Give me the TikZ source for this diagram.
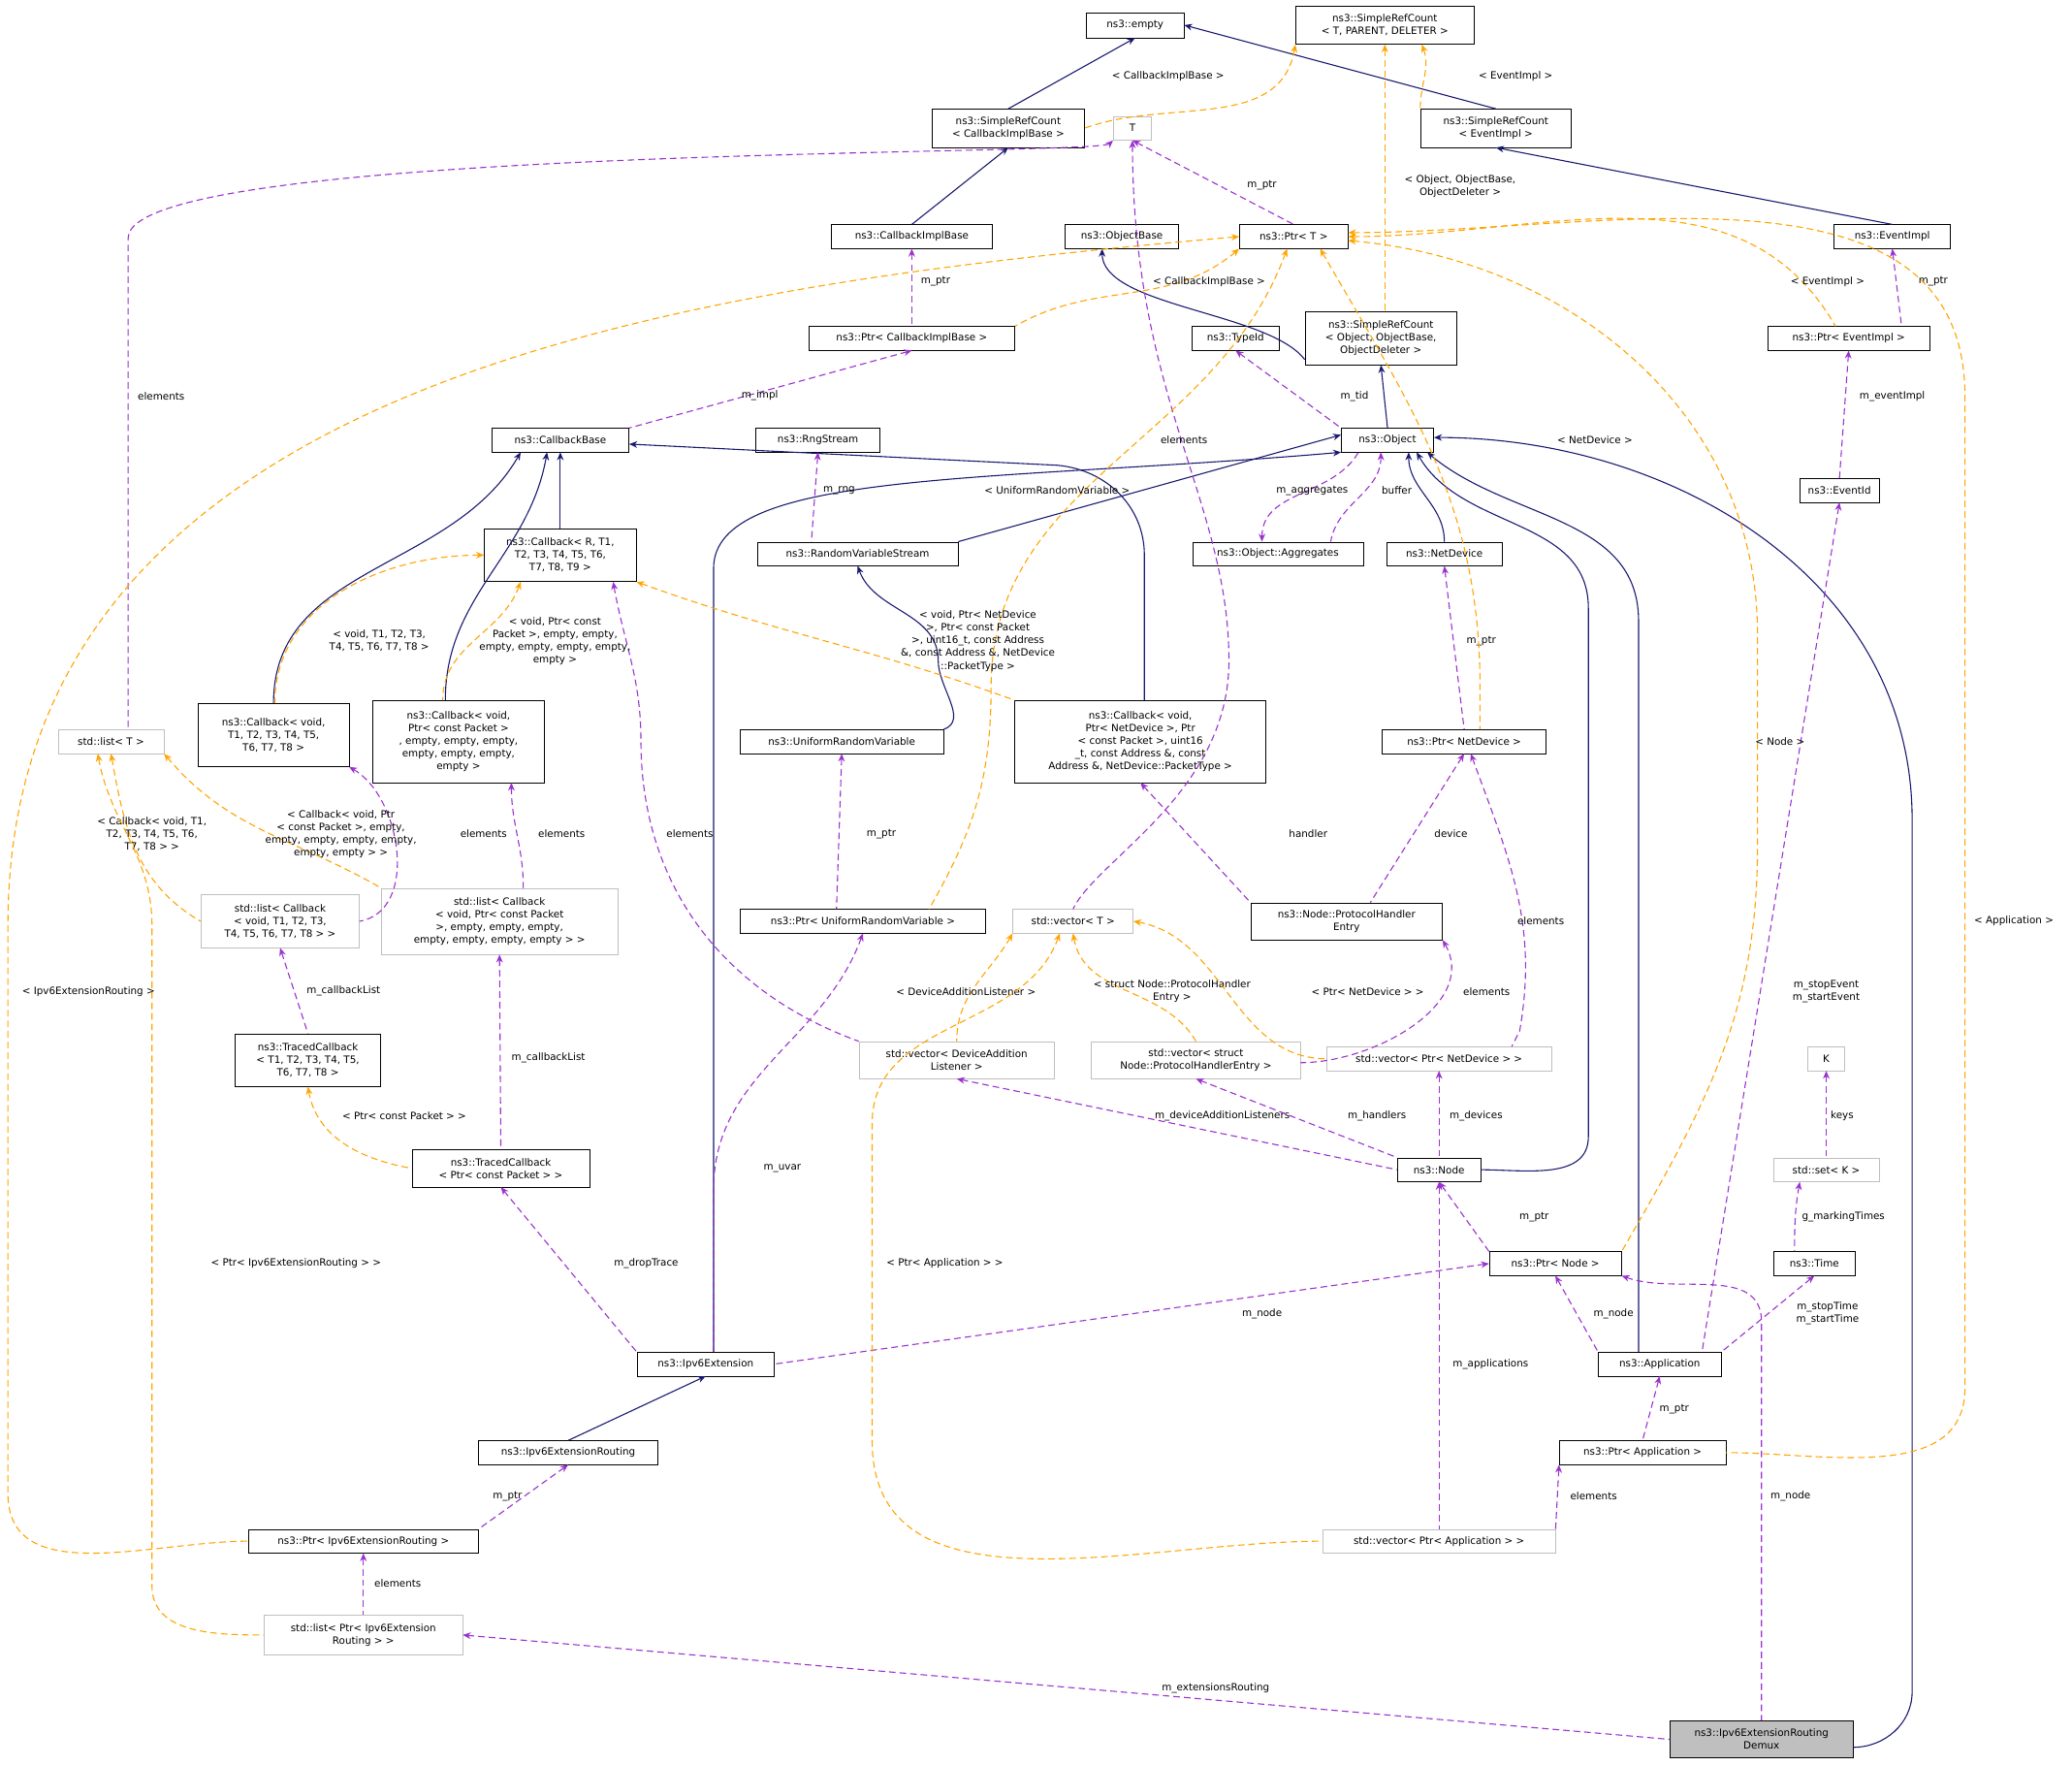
\documentclass[tikz,border=0pt]{standalone}
\usepackage{fontspec}
\setmainfont{DejaVu Sans}
\usetikzlibrary{arrows.meta}
\definecolor{navy}{HTML}{191970}
\definecolor{purp}{HTML}{9A32CD}
\definecolor{orng}{HTML}{FFA500}
\definecolor{gry}{HTML}{BFBFBF}
\tikzset{
 box/.style={draw=black, fill=white, inner sep=1pt, align=center, font=\fontsize{7.6}{9.6}\selectfont},
 gbox/.style={box, draw=gry},
 lbl/.style={inner sep=0pt, align=center, font=\fontsize{7.6}{9.6}\selectfont},
 inh/.style={draw=navy, thick, {Stealth[length=6pt,width=5pt]}-},
 use/.style={draw=purp, thick, dashed, dash pattern=on 5pt off 3pt, {Stealth[length=6pt,width=5pt]}-},
 tmpl/.style={draw=orng, thick, dashed, dash pattern=on 5pt off 3pt, {Stealth[length=6pt,width=5pt]}-},
}
\begin{document}
\begin{tikzpicture}[x=1pt,y=-1pt]
\useasboundingbox (0,0) rectangle (1568,1336);
\fill[white] (0,0) rectangle (1568,1336);
% nodes
\node[box,minimum width=74,minimum height=19] (empty) at (859,19) {ns3::empty};
\node[box,minimum width=135,minimum height=29] (srcT) at (1048,19) {ns3::SimpleRefCount\\< T, PARENT, DELETER >};
\node[box,minimum width=115,minimum height=29] (srcCIB) at (763,97) {ns3::SimpleRefCount\\< CallbackImplBase >};
\node[box,minimum width=114,minimum height=29] (srcEI) at (1132,97) {ns3::SimpleRefCount\\< EventImpl >};
\node[gbox,minimum width=29,minimum height=18] (T) at (857,97) {T};
\node[box,minimum width=122,minimum height=18] (CIB) at (690,179) {ns3::CallbackImplBase};
\node[box,minimum width=86,minimum height=18] (OB) at (849,179) {ns3::ObjectBase};
\node[box,minimum width=82,minimum height=18] (PtrT) at (979,179) {ns3::Ptr< T >};
\node[box,minimum width=88,minimum height=18] (EI) at (1432,179) {ns3::EventImpl};
\node[box,minimum width=156,minimum height=18] (PtrCIB) at (690,256) {ns3::Ptr< CallbackImplBase >};
\node[box,minimum width=66,minimum height=18] (TypeId) at (935,256) {ns3::TypeId};
\node[box,minimum width=115,minimum height=40] (srcObj) at (1045,256) {ns3::SimpleRefCount\\< Object, ObjectBase,\\ObjectDeleter >};
\node[box,minimum width=122,minimum height=18] (PtrEI) at (1399,256) {ns3::Ptr< EventImpl >};
\node[box,minimum width=104,minimum height=18] (CB) at (424,333) {ns3::CallbackBase};
\node[box,minimum width=94,minimum height=18] (Rng) at (619,333) {ns3::RngStream};
\node[box,minimum width=70,minimum height=18] (Obj) at (1050,333) {ns3::Object};
\node[box,minimum width=60,minimum height=18] (EvId) at (1392,371) {ns3::EventId};
\node[box,minimum width=115,minimum height=40] (CbR) at (424,420) {ns3::Callback< R, T1,\\T2, T3, T4, T5, T6,\\T7, T8, T9 >};
\node[box,minimum width=152,minimum height=18] (RVS) at (649,419) {ns3::RandomVariableStream};
\node[box,minimum width=129,minimum height=18] (Agg) at (967,419) {ns3::Object::Aggregates};
\node[box,minimum width=87,minimum height=18] (ND) at (1093,419) {ns3::NetDevice};
\node[box,minimum width=114,minimum height=48] (CbVT) at (207,556) {ns3::Callback< void,\\T1, T2, T3, T4, T5,\\T6, T7, T8 >};
\node[box,minimum width=130,minimum height=62] (CbVP) at (347,561) {ns3::Callback< void,\\Ptr< const Packet >\\, empty, empty, empty,\\empty, empty, empty,\\empty >};
\node[box,minimum width=154,minimum height=18] (URV) at (637,561) {ns3::UniformRandomVariable};
\node[box,minimum width=190,minimum height=62] (CbND) at (863,561) {ns3::Callback< void,\\Ptr< NetDevice >, Ptr\\< const Packet >, uint16\\\_t, const Address \&, const\\Address \&, NetDevice::PacketType >};
\node[box,minimum width=124,minimum height=18] (PtrND) at (1108,561) {ns3::Ptr< NetDevice >};
\node[gbox,minimum width=80,minimum height=18] (listT) at (84,561) {std::list< T >};
\node[gbox,minimum width=120,minimum height=40] (listCT) at (212,697) {std::list< Callback\\< void, T1, T2, T3,\\T4, T5, T6, T7, T8 > >};
\node[gbox,minimum width=179,minimum height=50] (listCP) at (378,697) {std::list< Callback\\< void, Ptr< const Packet\\>, empty, empty, empty,\\empty, empty, empty, empty > >};
\node[box,minimum width=186,minimum height=18] (PtrURV) at (653,697) {ns3::Ptr< UniformRandomVariable >};
\node[gbox,minimum width=91,minimum height=18] (vecT) at (812,697) {std::vector< T >};
\node[box,minimum width=145,minimum height=28] (PHE) at (1019,697) {ns3::Node::ProtocolHandler\\Entry};
\node[box,minimum width=110,minimum height=40] (TCT) at (233,802) {ns3::TracedCallback\\< T1, T2, T3, T4, T5,\\T6, T7, T8 >};
\node[gbox,minimum width=148,minimum height=28] (vecDAL) at (724,802) {std::vector< DeviceAddition\\Listener >};
\node[gbox,minimum width=158,minimum height=28] (vecPHE) at (905,802) {std::vector< struct\\Node::ProtocolHandlerEntry >};
\node[gbox,minimum width=170,minimum height=18] (vecPND) at (1089,801) {std::vector< Ptr< NetDevice > >};
\node[gbox,minimum width=28,minimum height=18] (K) at (1382,801) {K};
\node[box,minimum width=134,minimum height=28] (TCP) at (379,884) {ns3::TracedCallback\\< Ptr< const Packet > >};
\node[box,minimum width=63,minimum height=18] (Node) at (1089,885) {ns3::Node};
\node[gbox,minimum width=80,minimum height=18] (setK) at (1382,885) {std::set< K >};
\node[box,minimum width=100,minimum height=18] (PtrNode) at (1177,956) {ns3::Ptr< Node >};
\node[box,minimum width=62,minimum height=18] (Time) at (1373,956) {ns3::Time};
\node[box,minimum width=104,minimum height=18] (Ext) at (534,1032) {ns3::Ipv6Extension};
\node[box,minimum width=93,minimum height=18] (App) at (1256,1032) {ns3::Application};
\node[box,minimum width=136,minimum height=18] (ExtR) at (430,1099) {ns3::Ipv6ExtensionRouting};
\node[box,minimum width=126,minimum height=18] (PtrApp) at (1243,1099) {ns3::Ptr< Application >};
\node[box,minimum width=174,minimum height=18] (PtrExtR) at (275,1166) {ns3::Ptr< Ipv6ExtensionRouting >};
\node[gbox,minimum width=176,minimum height=18] (vecApp) at (1089,1166) {std::vector< Ptr< Application > >};
\node[gbox,minimum width=150,minimum height=30] (listExtR) at (275,1237) {std::list< Ptr< Ipv6Extension\\Routing > >};
\node[box,fill=gry,minimum width=138,minimum height=28] (Demux) at (1333,1316) {ns3::Ipv6ExtensionRouting\\Demux};
% inheritance
\draw[inh] (empty.south) -- (srcCIB.north);
\draw[inh] (empty.east) -- (srcEI.north);
\draw[inh] (srcCIB.south) -- (CIB.north);
\draw[inh] (srcEI.south) -- (EI.north);
\draw[inh] ([xshift=-15]OB.south) .. controls (834,232) and (960,236) .. ([yshift=-16]srcObj.west);
\draw[inh] (srcObj.south) -- (Obj.north);
\draw[inh] (CB.south) -- (CbR.north);
\draw[inh] ([xshift=-30]CB.south) to[out=-120,in=90] (CbVT.north);
\draw[inh] ([xshift=-10]CB.south) to[out=-100,in=90] ([xshift=-10]CbVP.north);
\draw[inh] ([yshift=-3]CB.east) -- (800,352) to[out=-5,in=90] (866,420) -- ([xshift=3]CbND.north);
\draw[inh] ([yshift=4]Obj.west) -- (RVS.north east);
\draw[inh] (Obj.south west) .. controls (750,365) and (540,355) .. (540,430) -- ([xshift=6]Ext.north);
\draw[inh] ([xshift=16]Obj.south) to[out=-90,in=90] (ND.north);
\draw[inh] ([xshift=22]Obj.south) to[out=-60,in=90] (1202,460) -- (1202,860) to[out=-90,in=0] (Node.east);
\draw[inh] ([xshift=30]Obj.south) to[out=-40,in=90] (1240,470) -- ([xshift=-16]App.north);
\draw[inh] ([yshift=2]Obj.east) to[out=0,in=90] (1447,620) -- (1447,1280) to[out=-90,in=0] ([yshift=-6]Demux.east);
\draw[inh] (RVS.south) to[out=-70,in=90] (710,500) to[out=-90,in=20] (URV.north east);
\draw[inh] (Ext.south) -- (ExtR.north);
% usage
\draw[use] (T.south) -- (PtrT.north);
\node[lbl] (l1) at (955,140) {m\_ptr};
\draw[use] (T.south west) .. controls (830,118) and (97,110) .. (97,180) -- (97,552);
\node[lbl] (l2) at (122,300) {elements};
\draw[use] (T.south) .. controls (857,300) and (930,380) .. (930,500) .. controls (930,600) and (830,650) .. (vecT.north);
\node[lbl] (l3) at (896,333) {elements};
\draw[use] (CIB.south) -- (PtrCIB.north);
\node[lbl] (l4) at (708,213) {m\_ptr};
\draw[use] (EI.south) -- ([xshift=40]PtrEI.north);
\node[lbl] (l5) at (1463,213) {m\_ptr};
\draw[use] (PtrCIB.south) -- (CB.north east);
\node[lbl] (l6) at (575,299) {m\_impl};
\draw[use] (TypeId.south) -- (Obj.north west);
\node[lbl] (l7) at (1025,300) {m\_tid};
\draw[use] ([xshift=-12]Agg.north) to[out=90,in=-120] ([xshift=-22]Obj.south);
\node[lbl] (l8) at (993,371) {m\_aggregates};
\draw[use] ([xshift=-5]Obj.south) to[out=-90,in=80] ([xshift=40]Agg.north);
\node[lbl] (l9) at (1057,371) {buffer};
\draw[use] (PtrEI.south) -- (EvId.north);
\node[lbl] (l10) at (1432,300) {m\_eventImpl};
\draw[use] (EvId.south) -- ([xshift=32]App.north);
\node[lbl] (l11) at (1382,750) {m\_stopEvent\\m\_startEvent};
\draw[use] (Rng.south) -- ([xshift=-35]RVS.north);
\node[lbl] (l12) at (635,371) {m\_rng};
\draw[use] (ND.south) -- (PtrND.north);
\node[lbl] (l13) at (1121,485) {m\_ptr};
\draw[use] ([xshift=40]CbR.south) to[out=-80,in=90] (485,560) to[out=-90,in=160] (vecDAL.north west);
\node[lbl] (l14) at (522,631) {elements};
\draw[use] (CbVT.south east) to[out=-30,in=10] (listCT.east);
\node[lbl] (l15) at (366,631) {elements};
\draw[use] ([xshift=40]CbVP.south) to[out=-90,in=90] ([xshift=18]listCP.north);
\node[lbl] (l16) at (425,631) {elements};
\draw[use] (URV.south) -- ([xshift=-20]PtrURV.north);
\node[lbl] (l17) at (667,631) {m\_ptr};
\draw[use] (CbND.south) -- (PHE.north west);
\node[lbl] (l18) at (990,631) {handler};
\draw[use] (PtrND.south) -- ([xshift=18]PHE.north);
\node[lbl] (l19) at (1098,631) {device};
\draw[use] ([xshift=5]PtrND.south) to[out=-70,in=80] (1150,780) -- ([xshift=55]vecPND.north);
\node[lbl] (l20) at (1166,697) {elements};
\draw[use] (PHE.south east) to[out=-60,in=0] ([yshift=-2]vecPHE.east);
\node[lbl] (l23) at (1125,750) {elements};
\draw[use] (listCT.south) -- (TCT.north);
\node[lbl] (l21) at (260,750) {m\_callbackList};
\draw[use] (listCP.south) -- (TCP.north);
\node[lbl] (l22) at (415,800) {m\_callbackList};
\draw[use] (vecDAL.south) -- (Node.west);
\node[lbl] (l24) at (925,844) {m\_deviceAdditionListeners};
\draw[use] (vecPHE.south) -- (Node.north west);
\node[lbl] (l25) at (1042,844) {m\_handlers};
\draw[use] (vecPND.south) -- (Node.north);
\node[lbl] (l26) at (1117,844) {m\_devices};
\draw[use] (K.south) -- (setK.north);
\node[lbl] (l27) at (1394,844) {keys};
\draw[use] (Node.south) -- (PtrNode.north west);
\node[lbl] (l28) at (1161,921) {m\_ptr};
\draw[use] ([xshift=-20]setK.south) to[out=-100,in=90] ([xshift=-15]Time.north);
\node[lbl] (l29) at (1395,921) {g\_markingTimes};
\draw[use] (PtrURV.south) to[out=-110,in=90] (540,900) -- ([xshift=6]Ext.north);
\node[lbl] (l30) at (592,884) {m\_uvar};
\draw[use] (TCP.south) -- (Ext.north west);
\node[lbl] (l31) at (489,956) {m\_dropTrace};
\draw[use] (PtrNode.west) -- (Ext.east);
\node[lbl] (l32) at (955,994) {m\_node};
\draw[use] (PtrNode.south) -- (App.north west);
\node[lbl] (l33) at (1221,994) {m\_node};
\draw[use] (Time.south) -- (App.north east);
\node[lbl] (l34) at (1383,994) {m\_stopTime\\m\_startTime};
\draw[use] (PtrNode.south east) to[out=-20,in=90] (1333,1000) -- (Demux.north);
\node[lbl] (l35) at (1355,1132) {m\_node};
\draw[use] (ExtR.south) -- (PtrExtR.north east);
\node[lbl] (l36) at (384,1132) {m\_ptr};
\draw[use] (App.south) -- (PtrApp.north);
\node[lbl] (l37) at (1267,1066) {m\_ptr};
\draw[use] (Node.south) -- (vecApp.north);
\node[lbl] (l38) at (1128,1032) {m\_applications};
\draw[use] (PtrApp.south west) -- (vecApp.north east);
\node[lbl] (l39) at (1206,1132) {elements};
\draw[use] (PtrExtR.south) -- (listExtR.north);
\node[lbl] (l40) at (301,1198) {elements};
\draw[use] (listExtR.east) -- (Demux.west);
\node[lbl] (l41) at (920,1277) {m\_extensionsRouting};
% templates
\draw[tmpl] (srcT.south west) to[out=-100,in=20] (srcCIB.east);
\node[lbl] (t1) at (884,58) {< CallbackImplBase >};
\draw[tmpl] ([xshift=28]srcT.south) to[out=-70,in=90] (srcEI.north west);
\node[lbl] (t2) at (1147,58) {< EventImpl >};
\draw[tmpl] (srcT.south) -- ([xshift=3]srcObj.north);
\node[lbl] (t3) at (1105,141) {< Object, ObjectBase,\\ObjectDeleter >};
\draw[tmpl] (PtrT.south west) to[out=-140,in=30] (PtrCIB.north east);
\node[lbl] (t4) at (915,213) {< CallbackImplBase >};
\draw[tmpl] (PtrT.east) to[out=0,in=120] ([xshift=-10]PtrEI.north);
\node[lbl] (t5) at (1383,213) {< EventImpl >};
\draw[tmpl] ([xshift=20]PtrT.south) to[out=-60,in=90] (1120,520) -- ([xshift=12]PtrND.north);
\node[lbl] (t6) at (1207,333) {< NetDevice >};
\draw[tmpl] ([xshift=-5]PtrT.south) to[out=-110,in=90] (750,520) to[out=-90,in=60] ([xshift=50]PtrURV.north);
\node[lbl] (t7) at (800,371) {< UniformRandomVariable >};
\draw[tmpl] ([yshift=-3]PtrT.east) to[out=-5,in=90] (1330,480) -- (1330,640) to[out=-90,in=60] (PtrNode.north east);
\node[lbl] (t8) at (1347,561) {< Node >};
\draw[tmpl] ([yshift=3]PtrT.east) to[out=0,in=90] (1487,300) -- (1487,1050) to[out=-90,in=0] (PtrApp.east);
\node[lbl] (t9) at (1524,697) {< Application >};
\draw[tmpl] (PtrT.west) to[out=-175,in=90] (6,700) -- (6,1130) to[out=-90,in=180] (PtrExtR.west);
\node[lbl] (t10) at (67,750) {< Ipv6ExtensionRouting >};
\draw[tmpl] (CbR.west) to[out=180,in=90] (208,532);
\node[lbl] (t11) at (287,485) {< void, T1, T2, T3,\\T4, T5, T6, T7, T8 >};
\draw[tmpl] ([xshift=-30]CbR.south) to[out=-110,in=90] ([xshift=-12]CbVP.north);
\node[lbl] (t12) at (420,485) {< void, Ptr< const\\Packet >, empty, empty,\\empty, empty, empty, empty,\\empty >};
\draw[tmpl] (CbR.south east) to[out=-20,in=160] (CbND.north west);
\node[lbl] (t13) at (740,485) {< void, Ptr< NetDevice\\>, Ptr< const Packet\\>, uint16\_t, const Address\\\&, const Address \&, NetDevice\\::PacketType >};
\draw[tmpl] (listT.south) to[out=-80,in=150] (listCT.west);
\node[lbl] (t14) at (115,631) {< Callback< void, T1,\\T2, T3, T4, T5, T6,\\T7, T8 > >};
\draw[tmpl] (listT.south east) to[out=-50,in=150] (listCP.north west);
\node[lbl] (t15) at (258,631) {< Callback< void, Ptr\\< const Packet >, empty,\\empty, empty, empty, empty,\\empty, empty > >};
\draw[tmpl] ([xshift=-10]listT.south) to[out=-80,in=90] (115,700) -- (115,1200) to[out=-90,in=180] (listExtR.west);
\node[lbl] (t16) at (224,956) {< Ptr< Ipv6ExtensionRouting > >};
\draw[tmpl] (TCT.south) to[out=-80,in=170] (TCP.west);
\node[lbl] (t17) at (306,844) {< Ptr< const Packet > >};
\draw[tmpl] (vecT.south west) to[out=-120,in=90] (vecDAL.north);
\node[lbl] (t18) at (731,750) {< DeviceAdditionListener >};
\draw[tmpl] (vecT.south) to[out=-80,in=120] (vecPHE.north);
\node[lbl] (t19) at (887,750) {< struct Node::ProtocolHandler\\Entry >};
\draw[tmpl] (vecT.east) to[out=-10,in=180] (vecPND.west);
\node[lbl] (t20) at (1035,750) {< Ptr< NetDevice > >};
\draw[tmpl] ([xshift=-10]vecT.south) to[out=-110,in=90] (660,850) -- (660,1090) to[out=-90,in=180] (vecApp.west);
\node[lbl] (t21) at (715,956) {< Ptr< Application > >};
\end{tikzpicture}
\end{document}
